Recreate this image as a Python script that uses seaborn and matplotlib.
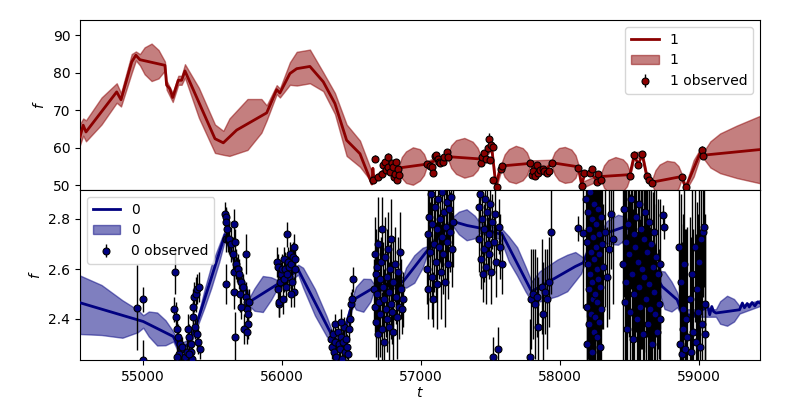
"""
Two-panel GP fit plot: mean, confidence band and observations for two series.
"""
import matplotlib
matplotlib.use("Agg")
import matplotlib.pyplot as plt
from matplotlib.ticker import MultipleLocator
import numpy as np
import seaborn as sns

# ---- series "1" (top panel) ----
top_mean_t = [54545, 54568, 54588, 54809, 54840, 54917, 54947, 54976, 55156, 55168,
              55190, 55212, 55252, 55276, 55300, 55516, 55576, 55672, 55888, 55960,
              55983, 56055, 56104, 56199, 56295, 56379, 56463, 56559, 56645, 56652,
              56660, 56700, 56760, 56842, 57039, 57098, 57194, 57422, 57458, 57506,
              57537, 57571, 57782, 57818, 57890, 57938, 58129, 58154, 58178, 58213,
              58262, 58293, 58501, 58532, 58561, 58590, 58621, 58662, 58873, 58902,
              59017, 59029, 59437]
top_mean_y = [62.9, 66.0, 64.2, 74.9, 72.8, 82.9, 84.7, 83.5, 82.0, 76.7,
              75.8, 73.4, 78.0, 78.0, 80.5, 62.4, 61.3, 64.7, 69.3, 75.5,
              74.6, 79.8, 81.1, 81.7, 77.6, 71.8, 62.0, 58.4, 50.3, 54.5,
              51.5, 52.8, 54.3, 54.6, 55.6, 56.5, 57.6, 57.0, 58.0, 60.2,
              49.8, 55.1, 55.8, 53.8, 53.7, 56.0, 54.9, 50.0, 53.3, 53.5,
              51.3, 52.3, 52.8, 58.0, 55.5, 58.2, 52.6, 50.8, 52.3, 49.3,
              59.5, 58.0, 59.5]

top_band_t = [54545, 54568, 54588, 54700, 54809, 54840, 54917, 54947, 54976, 55010,
              55060, 55110, 55156, 55168, 55212, 55252, 55276, 55300, 55400, 55516,
              55576, 55620, 55750, 55850, 55888, 55960, 55983, 56055, 56104, 56199,
              56295, 56379, 56463, 56559, 56640, 56655, 56700, 56760, 56842, 56860,
              56890, 56940, 56990, 57020, 57039, 57100, 57194, 57215, 57250, 57310,
              57370, 57405, 57429, 57506, 57537, 57578, 57600, 57630, 57680, 57730,
              57760, 57782, 57938, 57960, 57990, 58033, 58080, 58110, 58129, 58154,
              58293, 58315, 58345, 58397, 58450, 58480, 58501, 58532, 58590, 58621,
              58662, 58685, 58715, 58767, 58820, 58850, 58873, 58902, 58960, 59017,
              59029, 59080, 59150, 59270, 59437]
top_band_mid = [63.5, 65.5, 64.5, 69.8, 74.6, 72.8, 82.5, 84.5, 83.5, 83.2,
                82.8, 82.3, 81.8, 76.7, 73.4, 78.0, 78.0, 80.5, 72.0, 62.4,
                61.3, 62.8, 66.2, 68.5, 69.3, 75.5, 74.6, 79.8, 81.1, 81.7,
                77.6, 71.8, 62.0, 58.4, 52.5, 51.3, 52.8, 54.5, 54.6, 54.7,
                54.8, 55.1, 55.4, 55.5, 55.6, 56.5, 57.6, 57.6, 57.5, 57.3,
                57.1, 57.0, 57.0, 60.2, 49.8, 55.1, 55.2, 55.3, 55.5, 55.6,
                55.7, 55.8, 56.0, 55.8, 55.6, 55.4, 55.2, 55.0, 54.9, 50.0,
                52.3, 52.3, 52.4, 52.5, 52.6, 52.7, 52.8, 58.0, 58.2, 52.6,
                50.8, 51.0, 51.2, 51.5, 51.9, 52.1, 52.3, 49.3, 54.5, 59.5,
                58.0, 58.2, 58.5, 58.9, 59.5]
top_band_half = [2.8, 2.3, 2.8, 3.6, 2.6, 1.8, 2.5, 1.2, 1.5, 3.6,
                 5.0, 3.8, 1.2, 1.2, 1.2, 1.2, 1.2, 1.8, 4.0, 3.8,
                 3.2, 5.0, 6.8, 4.5, 2.0, 1.2, 1.2, 3.0, 4.5, 4.5,
                 2.5, 2.8, 4.2, 3.5, 1.5, 0.8, 0.8, 0.8, 0.8, 2.8,
                 4.2, 5.0, 4.2, 2.8, 0.8, 0.8, 0.8, 3.0, 4.5, 5.3,
                 4.5, 3.0, 0.8, 0.8, 0.8, 0.8, 3.0, 4.3, 5.0, 4.3,
                 3.0, 0.8, 0.8, 3.0, 4.3, 4.8, 4.3, 3.0, 0.8, 0.8,
                 0.8, 3.0, 4.3, 5.0, 4.3, 3.0, 0.8, 0.8, 0.8, 0.8,
                 0.8, 3.0, 4.3, 5.0, 4.3, 3.0, 0.8, 0.8, 2.2, 0.8,
                 0.8, 3.5, 5.3, 7.0, 9.0]

top_obs_t = [56655, 56667, 56691, 56715, 56722, 56739, 56746, 56758, 56763, 56775,
             56787, 56799, 56804, 56811, 56818, 56823, 56834, 56842, 57039, 57063,
             57075, 57084, 57098, 57106, 57122, 57128, 57134, 57158, 57163, 57183,
             57194, 57429, 57434, 57451, 57465, 57482, 57487, 57494, 57499, 57513,
             57518, 57542, 57571, 57578, 57782, 57794, 57806, 57818, 57830, 57842,
             57854, 57873, 57883, 57902, 57921, 57938, 58129, 58154, 58170, 58213,
             58230, 58262, 58273, 58291, 58501, 58532, 58561, 58590, 58621, 58640,
             58662, 58873, 58902, 59017, 59029]
top_obs_y = [51.5, 57.1, 52.2, 53.1, 55.3, 56.2, 54.0, 57.6, 54.9, 53.6,
             55.8, 54.9, 52.2, 53.1, 56.2, 51.3, 54.4, 52.7, 55.6, 55.1,
             54.9, 53.3, 57.8, 58.0, 57.1, 56.2, 56.0, 56.2, 57.6, 58.9,
             57.6, 56.0, 57.6, 58.6, 57.1, 59.8, 62.4, 56.8, 60.7, 60.2,
             51.5, 49.6, 54.4, 55.1, 55.8, 52.7, 53.7, 52.4, 55.3, 53.3,
             54.0, 54.2, 53.7, 53.3, 53.8, 56.0, 54.7, 49.7, 53.3, 53.3,
             54.4, 50.9, 53.1, 51.5, 52.4, 58.0, 55.3, 58.3, 52.5, 51.5,
             50.6, 52.2, 49.4, 59.5, 57.7]
top_obs_err = [0.8, 0.9, 0.7, 0.8, 0.7, 0.8, 0.7, 0.9, 0.7, 0.8,
               0.7, 0.8, 0.7, 0.8, 0.7, 0.8, 0.7, 0.8, 0.8, 0.7,
               0.8, 0.7, 0.8, 0.7, 0.8, 0.7, 0.8, 0.7, 0.8, 0.7,
               0.8, 0.7, 0.8, 0.7, 0.8, 0.9, 1.5, 0.8, 0.9, 0.8,
               0.8, 0.8, 0.7, 0.8, 0.7, 0.8, 0.7, 0.8, 0.7, 0.8,
               0.7, 0.8, 0.7, 0.8, 0.7, 0.8, 0.7, 0.8, 0.7, 0.8,
               0.7, 0.8, 0.7, 0.8, 0.7, 1.0, 0.8, 0.9, 0.7, 0.8,
               0.7, 0.8, 0.8, 1.0, 0.8]

# ---- series "0" (bottom panel) ----
bot_mean_t = [54545, 55000, 55216, 55260, 55330, 55396, 55588, 55680, 55768, 55960,
              56115, 56355, 56420, 56511, 56655, 56870, 57038, 57230, 57330, 57422,
              57566, 57578, 57794, 58108, 58165, 58201, 58298, 58453, 58500, 58600,
              58697, 58733, 58841, 58877, 58913, 58925, 58949, 58973, 58997, 59020,
              59045, 59060, 59075, 59090, 59103, 59120, 59200, 59290, 59310, 59325,
              59345, 59360, 59380, 59400, 59420, 59437]
bot_mean_y = [2.465, 2.39, 2.33, 2.28, 2.30, 2.40, 2.737, 2.60, 2.47, 2.537,
              2.597, 2.337, 2.30, 2.477, 2.524, 2.55, 2.67, 2.79, 2.774, 2.764,
              2.74, 2.744, 2.51, 2.61, 2.625, 2.67, 2.737, 2.767, 2.76, 2.68,
              2.564, 2.53, 2.477, 2.424, 2.397, 2.417, 2.404, 2.424, 2.41, 2.437,
              2.444, 2.457, 2.417, 2.45, 2.43, 2.424, 2.43, 2.437, 2.464, 2.445,
              2.462, 2.448, 2.466, 2.452, 2.468, 2.464]

bot_band_t = [54545, 54700, 54850, 54960, 55000, 55040, 55100, 55160, 55216, 55260,
              55330, 55396, 55440, 55490, 55545, 55588, 55680, 55768, 55800, 55860,
              55920, 55960, 56115, 56150, 56235, 56320, 56355, 56420, 56511, 56530,
              56583, 56635, 56655, 56870, 56890, 56950, 57010, 57038, 57230, 57270,
              57326, 57385, 57422, 57566, 57578, 57630, 57690, 57750, 57794, 57850,
              57902, 57980, 58050, 58108, 58150, 58165, 58201, 58298, 58335, 58415,
              58470, 58500, 58600, 58697, 58750, 58800, 58841, 58877, 59120, 59150,
              59200, 59250, 59290, 59437]
bot_band_mid = [2.457, 2.436, 2.40, 2.392, 2.39, 2.38, 2.36, 2.345, 2.33, 2.28,
                2.30, 2.40, 2.48, 2.57, 2.66, 2.737, 2.60, 2.47, 2.478, 2.50,
                2.522, 2.537, 2.597, 2.565, 2.467, 2.37, 2.337, 2.30, 2.477, 2.483,
                2.495, 2.515, 2.524, 2.55, 2.565, 2.60, 2.645, 2.67, 2.79, 2.784,
                2.777, 2.768, 2.764, 2.74, 2.735, 2.68, 2.63, 2.56, 2.51, 2.53,
                2.544, 2.565, 2.584, 2.61, 2.617, 2.625, 2.67, 2.737, 2.747, 2.757,
                2.764, 2.76, 2.68, 2.564, 2.515, 2.49, 2.477, 2.424, 2.424, 2.426,
                2.433, 2.435, 2.437, 2.464]
bot_band_half = [0.117, 0.10, 0.075, 0.045, 0.025, 0.05, 0.066, 0.05, 0.02, 0.02,
                 0.02, 0.02, 0.035, 0.045, 0.035, 0.02, 0.02, 0.02, 0.045, 0.072,
                 0.045, 0.02, 0.02, 0.04, 0.053, 0.04, 0.02, 0.02, 0.02, 0.045,
                 0.066, 0.045, 0.02, 0.02, 0.04, 0.055, 0.04, 0.02, 0.02, 0.045,
                 0.062, 0.045, 0.02, 0.02, 0.027, 0.05, 0.057, 0.05, 0.04, 0.06,
                 0.065, 0.073, 0.073, 0.058, 0.035, 0.02, 0.02, 0.02, 0.045, 0.06,
                 0.045, 0.02, 0.02, 0.03, 0.075, 0.06, 0.03, 0.015, 0.015, 0.045,
                 0.06, 0.045, 0.015, 0.012]

bot_obs_t = [
    # early
    54955, 54995, 54998,
    # 55200-55400
    55220, 55228, 55236, 55240, 55250, 55262, 55270, 55282, 55255, 55245,
    55300, 55312, 55322, 55332, 55340, 55345, 55355, 55360, 55368, 55375,
    55380, 55385, 55390, 55395, 55400, 55405, 55352, 55330,
    # 55600-55760
    55590, 55593, 55596, 55600, 55592, 55610, 55620, 55630, 55652, 55660,
    55645, 55668, 55675, 55655, 55597, 55650, 55680, 55688, 55695, 55737,
    55705, 55715, 55740, 55745, 55750, 55755, 55752, 55725, 55748, 55662,
    55700, 55760,
    # 55960-56100
    55965, 55968, 55972, 55975, 55980, 55985, 55990, 56000, 56010, 56020,
    56025, 56032, 56040, 56045, 56050, 56058, 56065, 56070, 56078, 56085,
    56090, 56095, 56088, 56060, 56008, 56015, 56035,
    # 56350-56510
    56350, 56360, 56368, 56375, 56382, 56390, 56398, 56405, 56412, 56420,
    56428, 56435, 56442, 56450, 56458, 56465, 56472, 56480, 56488, 56495,
    56502, 56510, 56378, 56425,
    # 56660-56870
    56660, 56664, 56668, 56672, 56676, 56680, 56684, 56688, 56692, 56696,
    56700, 56705, 56710, 56715, 56720, 56725, 56730, 56735, 56740, 56745,
    56750, 56755, 56760, 56765, 56770, 56775, 56780, 56785, 56790, 56795,
    56800, 56808, 56815, 56822, 56830, 56838, 56845, 56852, 56860, 56868,
    # 57040-57230
    57040, 57045, 57050, 57056, 57062, 57068, 57074, 57080, 57086, 57092,
    57098, 57104, 57110, 57116, 57122, 57128, 57134, 57140, 57146, 57152,
    57158, 57164, 57170, 57176, 57182, 57188, 57194, 57200, 57206, 57212,
    57220, 57228,
    # 57410-57580
    57412, 57418, 57424, 57430, 57436, 57442, 57448, 57454, 57460, 57466,
    57472, 57478, 57484, 57490, 57496, 57502, 57508, 57514, 57520, 57530,
    57540, 57550, 57560, 57570, 57580,
    # 57780-57935
    57787, 57806, 57818, 57830, 57842, 57866, 57878, 57890, 57902, 57921,
    57933, 57782,
    # 58120-58380
    58129, 58165,
    58186, 58189, 58192, 58195, 58198, 58201, 58204, 58207, 58210, 58213,
    58216, 58219, 58222, 58225, 58228, 58231, 58234, 58237, 58240, 58243,
    58246, 58249, 58252, 58255, 58258, 58261, 58264, 58267, 58270, 58273,
    58276, 58279, 58282, 58285, 58288, 58292, 58296, 58300, 58310, 58320,
    58335, 58350, 58365, 58380,
    # 58455-58750
    58455, 58460, 58465, 58470, 58475, 58480, 58488, 58495, 58502, 58510,
    58516, 58522, 58528, 58534, 58540, 58546, 58552, 58558, 58564, 58570,
    58576, 58582, 58588, 58594, 58600, 58606, 58612, 58618, 58624, 58630,
    58636, 58642, 58648, 58654, 58660, 58666, 58672, 58678, 58684, 58690,
    58696, 58702, 58708, 58714, 58720, 58742, 58748,
    # 58855-59045
    58856, 58862, 58868, 58874, 58880, 58886, 58892, 58898, 58904, 58910,
    58930, 58940, 58950, 58958, 58966, 58974, 58982, 58990, 58998, 59006,
    59014, 59020, 59026, 59032, 59038, 59044,
]
bot_obs_y = [
    2.446, 2.48, 2.236,
    2.44, 2.59, 2.41, 2.36, 2.33, 2.30, 2.28, 2.29, 2.26, 2.25,
    2.25, 2.27, 2.36, 2.33, 2.30, 2.27, 2.41, 2.45, 2.49, 2.37,
    2.50, 2.34, 2.52, 2.31, 2.53, 2.28, 2.24, 2.26,
    2.82, 2.81, 2.79, 2.76, 2.72, 2.72, 2.72, 2.70, 2.78, 2.71,
    2.66, 2.62, 2.60, 2.59, 2.54, 2.51, 2.60, 2.58, 2.50, 2.66,
    2.55, 2.53, 2.49, 2.47, 2.44, 2.42, 2.38, 2.36, 2.35, 2.33,
    2.45, 2.47,
    2.63, 2.61, 2.52, 2.46, 2.47, 2.55, 2.58, 2.60, 2.64, 2.60,
    2.53, 2.74, 2.63, 2.61, 2.57, 2.66, 2.62, 2.55, 2.65, 2.69,
    2.64, 2.60, 2.51, 2.50, 2.48, 2.56, 2.58,
    2.32, 2.29, 2.34, 2.27, 2.31, 2.25, 2.35, 2.30, 2.28, 2.33,
    2.24, 2.31, 2.37, 2.27, 2.32, 2.29, 2.26, 2.36, 2.40, 2.46,
    2.48, 2.56, 2.38, 2.39,
    2.52, 2.66, 2.45, 2.58, 2.39, 2.61, 2.50, 2.34, 2.70, 2.47,
    2.56, 2.42, 2.63, 2.36, 2.76, 2.53, 2.48, 2.31, 2.65, 2.44,
    2.57, 2.40, 2.68, 2.51, 2.37, 2.60, 2.46, 2.72, 2.43, 2.55,
    2.35, 2.62, 2.49, 2.41, 2.59, 2.45, 2.67, 2.52, 2.44, 2.48,
    2.60, 2.74, 2.52, 2.81, 2.67, 2.90, 2.57, 2.78, 2.48, 2.70,
    2.85, 2.63, 2.76, 2.54, 2.88, 2.69, 2.80, 2.59, 2.73, 2.91,
    2.66, 2.83, 2.55, 2.77, 2.87, 2.71, 2.62, 2.84, 2.75, 2.89,
    2.68, 2.79,
    2.85, 2.72, 2.90, 2.64, 2.80, 2.58, 2.76, 2.68, 2.88, 2.61,
    2.83, 2.70, 2.74, 2.66, 2.86, 2.59, 2.79, 2.25, 2.71, 2.82,
    2.63, 2.28, 2.77, 2.69, 2.62,
    2.48, 2.50, 2.46, 2.49, 2.37, 2.53, 2.42, 2.51, 2.48, 2.55,
    2.75, 2.25,
    2.764, 2.744,
    2.88, 2.45, 2.71, 2.30, 2.62, 2.83, 2.52, 2.38, 2.76, 2.58,
    2.91, 2.42, 2.67, 2.27, 2.80, 2.55, 2.48, 2.73, 2.35, 2.64,
    2.86, 2.50, 2.41, 2.69, 2.78, 2.33, 2.60, 2.47, 2.84, 2.56,
    2.39, 2.74, 2.66, 2.29, 2.53, 2.81, 2.44, 2.70, 2.61, 2.75,
    2.57, 2.68, 2.82, 2.72,
    2.62, 2.84, 2.47, 2.71, 2.55, 2.36, 2.78, 2.66, 2.43, 2.88,
    2.58, 2.32, 2.74, 2.50, 2.69, 2.81, 2.40, 2.63, 2.53, 2.86,
    2.45, 2.76, 2.60, 2.34, 2.72, 2.57, 2.83, 2.48, 2.67, 2.38,
    2.79, 2.54, 2.44, 2.70, 2.30, 2.61, 2.75, 2.51, 2.42, 2.65,
    2.35, 2.58, 2.46, 2.62, 2.40, 2.817, 2.77,
    2.69, 2.30, 2.55, 2.26, 2.44, 2.36, 2.62, 2.28, 2.40, 2.33,
    2.48, 2.27, 2.58, 2.35, 2.69, 2.31, 2.52, 2.43, 2.63, 2.29,
    2.72, 2.38, 2.75, 2.77, 2.46, 2.34,
]
bot_obs_err = [
    0.17, 0.05, 0.08,
    0.05, 0.09, 0.06, 0.05, 0.05, 0.04, 0.05, 0.04, 0.05, 0.05,
    0.04, 0.05, 0.06, 0.05, 0.06, 0.05, 0.06, 0.07, 0.06, 0.05,
    0.07, 0.06, 0.06, 0.05, 0.06, 0.04, 0.05, 0.05,
    0.05, 0.04, 0.05, 0.06, 0.05, 0.05, 0.06, 0.07, 0.06, 0.05,
    0.07, 0.06, 0.05, 0.08, 0.08, 0.07, 0.06, 0.06, 0.07, 0.08,
    0.06, 0.05, 0.06, 0.05, 0.06, 0.05, 0.06, 0.06, 0.05, 0.10,
    0.05, 0.05,
    0.06, 0.05, 0.06, 0.05, 0.06, 0.07, 0.05, 0.06, 0.05, 0.07,
    0.06, 0.05, 0.06, 0.05, 0.06, 0.05, 0.06, 0.05, 0.06, 0.05,
    0.06, 0.05, 0.06, 0.05, 0.06, 0.05, 0.06,
    0.04, 0.05, 0.04, 0.05, 0.04, 0.05, 0.04, 0.05, 0.04, 0.05,
    0.04, 0.05, 0.04, 0.05, 0.04, 0.05, 0.04, 0.05, 0.04, 0.05,
    0.04, 0.05, 0.04, 0.05,
    0.12, 0.15, 0.10, 0.18, 0.14, 0.11, 0.16, 0.13, 0.19, 0.12,
    0.14, 0.17, 0.10, 0.15, 0.13, 0.18, 0.12, 0.14, 0.16, 0.11,
    0.19, 0.13, 0.15, 0.12, 0.17, 0.10, 0.14, 0.16, 0.13, 0.18,
    0.12, 0.15, 0.11, 0.17, 0.14, 0.13, 0.16, 0.12, 0.10, 0.11,
    0.14, 0.18, 0.12, 0.16, 0.20, 0.13, 0.17, 0.15, 0.11, 0.19,
    0.14, 0.16, 0.12, 0.18, 0.15, 0.13, 0.17, 0.19, 0.12, 0.14,
    0.16, 0.13, 0.18, 0.15, 0.11, 0.17, 0.14, 0.12, 0.16, 0.13,
    0.15, 0.18,
    0.10, 0.13, 0.09, 0.12, 0.14, 0.11, 0.10, 0.13, 0.12, 0.15,
    0.09, 0.11, 0.14, 0.10, 0.12, 0.13, 0.11, 0.08, 0.12, 0.10,
    0.14, 0.09, 0.11, 0.13, 0.12,
    0.20, 0.18, 0.22, 0.16, 0.20, 0.19, 0.21, 0.17, 0.20, 0.18,
    0.25, 0.15,
    0.05, 0.30,
    0.35, 0.42, 0.30, 0.50, 0.38, 0.45, 0.33, 0.40, 0.55, 0.36,
    0.48, 0.32, 0.44, 0.39, 0.52, 0.34, 0.46, 0.37, 0.41, 0.58,
    0.31, 0.43, 0.49, 0.35, 0.40, 0.47, 0.33, 0.54, 0.38, 0.42,
    0.36, 0.50, 0.45, 0.30, 0.44, 0.39, 0.48, 0.34, 0.25, 0.30,
    0.20, 0.28, 0.22, 0.26,
    0.40, 0.35, 0.45, 0.30, 0.50, 0.38, 0.42, 0.33, 0.47, 0.36,
    0.44, 0.52, 0.31, 0.40, 0.37, 0.46, 0.34, 0.49, 0.39, 0.43,
    0.35, 0.48, 0.32, 0.41, 0.45, 0.36, 0.38, 0.50, 0.34, 0.42,
    0.37, 0.44, 0.33, 0.47, 0.39, 0.30, 0.40, 0.35, 0.28, 0.32,
    0.25, 0.30, 0.22, 0.26, 0.20, 0.04, 0.05,
    0.25, 0.40, 0.35, 0.45, 0.38, 0.42, 0.30, 0.48, 0.36, 0.44,
    0.33, 0.46, 0.37, 0.41, 0.30, 0.43, 0.35, 0.39, 0.32, 0.47,
    0.28, 0.40, 0.26, 0.24, 0.36, 0.42,
]


def draw_panel(ax, name, color, mean_t, mean_y, band_t, band_mid, band_half,
               obs_t, obs_y, obs_err, legend_loc):
    sns.lineplot(x=mean_t, y=mean_y, ax=ax, color=color, lw=2, label=name,
                 sort=False, estimator=None, zorder=3)
    mid = np.asarray(band_mid)
    half = np.asarray(band_half)
    ax.fill_between(band_t, mid - half, mid + half, color=color, alpha=0.5,
                    lw=1, label=name, zorder=2)
    ax.errorbar(obs_t, obs_y, yerr=obs_err, fmt="o", ms=5, mfc=color,
                mec="black", mew=0.8, ecolor="black", elinewidth=1,
                label=f"{name} observed", zorder=4)
    ax.legend(loc=legend_loc)
    ax.set_ylabel("$f$")


fig, (ax_top, ax_bot) = plt.subplots(2, 1, sharex=True, figsize=(8, 4), dpi=100)
fig.subplots_adjust(left=0.1, right=0.95, top=0.95, bottom=0.1, hspace=0)

draw_panel(ax_top, "1", "darkred", top_mean_t, top_mean_y, top_band_t,
           top_band_mid, top_band_half, top_obs_t, top_obs_y, top_obs_err,
           "upper right")
draw_panel(ax_bot, "0", "navy", bot_mean_t, bot_mean_y, bot_band_t,
           bot_band_mid, bot_band_half, bot_obs_t, bot_obs_y, bot_obs_err,
           "upper left")

ax_top.set_ylim(48.7, 94.1)
ax_bot.set_ylim(2.236, 2.916)
ax_bot.yaxis.set_major_locator(MultipleLocator(0.2))
ax_bot.set_xlim(54545, 59437)
ax_bot.set_xlabel("$t$", labelpad=1.5)

plt.savefig("out.png")
plt.close()
